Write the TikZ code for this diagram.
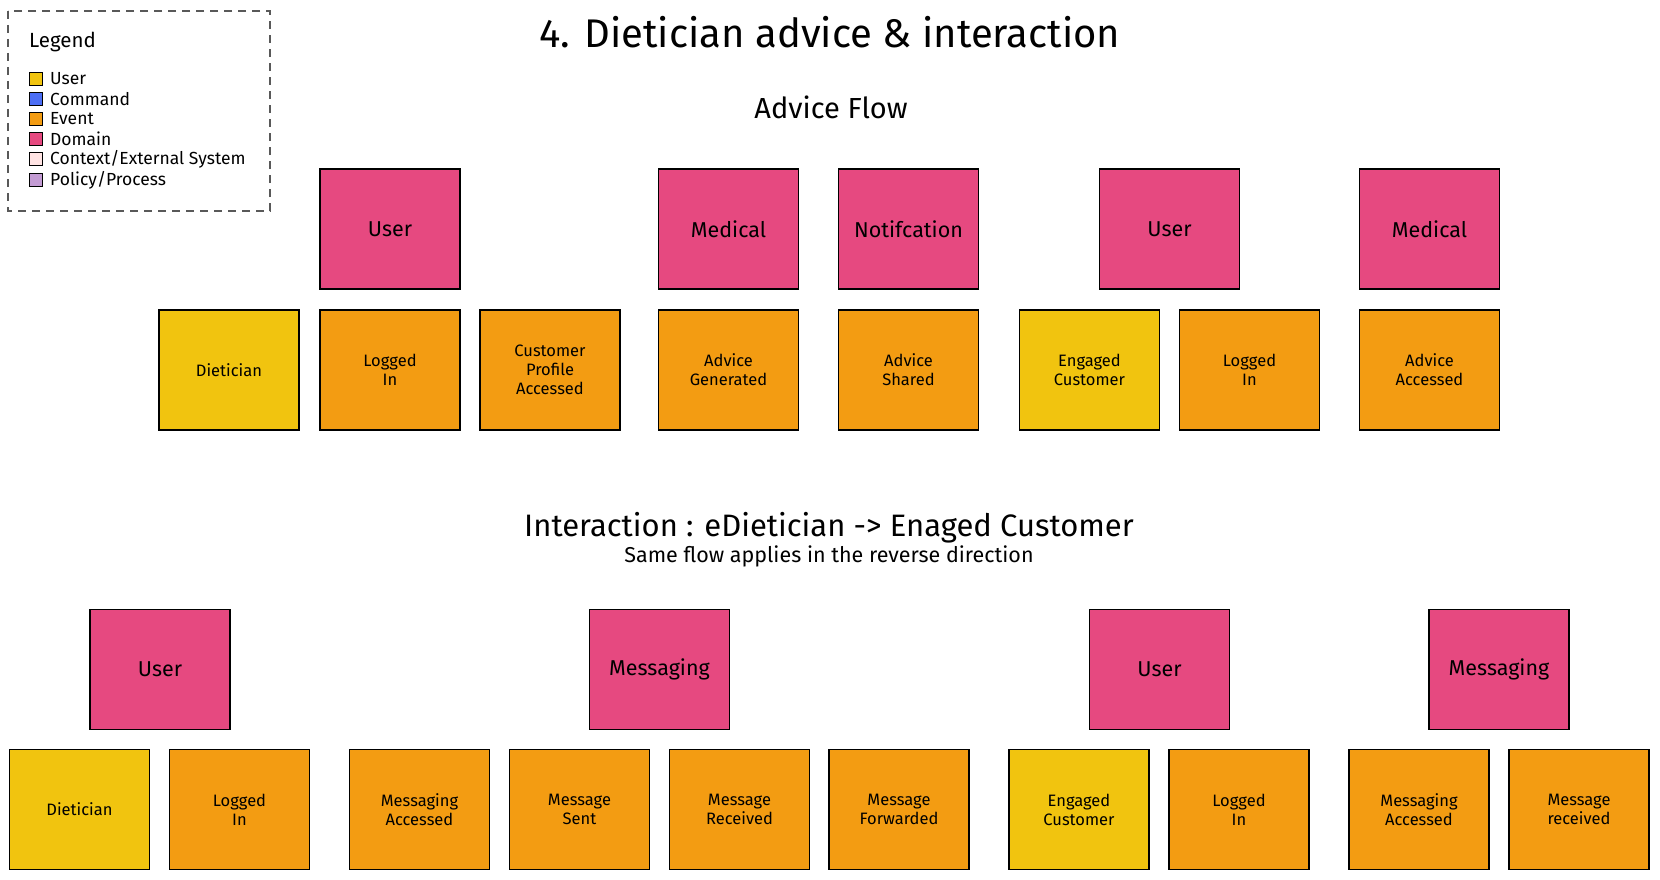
\documentclass[tikz,border=0pt]{standalone}
\usepackage{fontspec}
\setmainfont{Fira Sans}
\usetikzlibrary{positioning}
\definecolor{userYellow}{HTML}{F1C40F}
\definecolor{eventOrange}{HTML}{F39C12}
\definecolor{domainPink}{HTML}{E64980}
\definecolor{cmdBlue}{HTML}{4C6EF5}
\definecolor{ctxPink}{HTML}{FFE3E3}
\definecolor{policyLilac}{HTML}{C39BD3}
\tikzset{
  sticky/.style={draw=black, line width=1.2pt, minimum width=140pt, minimum height=120pt,
    align=center, inner sep=2pt, font=\fontsize{16.5}{19}\selectfont},
  domainbox/.style={sticky, fill=domainPink, font=\fontsize{21.5}{24}\selectfont},
  eventbox/.style={sticky, fill=eventOrange},
  actorbox/.style={sticky, fill=userYellow},
  swatch/.style={draw=black, line width=0.9pt, minimum size=13pt, inner sep=0pt},
  keytext/.style={anchor=west, inner sep=0pt, font=\fontsize{17.5}{19}\selectfont},
}

\begin{document}
\begin{tikzpicture}[x=1pt,y=-1pt]
\useasboundingbox (0,0) rectangle (1660,880);

\draw[gray!70!black, line width=1.2pt, dash pattern=on 8pt off 6pt] (8,11) rectangle (270,211);
\node[anchor=west, inner sep=0pt, font=\fontsize{20.5}{23}\selectfont] (legend) at (29,42) {Legend};
\node[swatch, fill=userYellow] (keyUser) at (36,79) {};
\node[swatch, fill=cmdBlue] (keyCommand) at (36,99) {};
\node[swatch, fill=eventOrange] (keyEvent) at (36,119) {};
\node[swatch, fill=domainPink] (keyDomain) at (36,139) {};
\node[swatch, fill=ctxPink] (keyContext) at (36,159) {};
\node[swatch, fill=policyLilac] (keyPolicy) at (36,180) {};
\node[keytext, right=7pt of keyUser] (keyUserText) {User};
\node[keytext, right=7pt of keyCommand] (keyCommandText) {Command};
\node[keytext, right=7pt of keyEvent] (keyEventText) {Event};
\node[keytext, right=7pt of keyDomain] (keyDomainText) {Domain};
\node[keytext, right=7pt of keyContext] (keyContextText) {Context/External System};
\node[keytext, right=7pt of keyPolicy] (keyPolicyText) {Policy/Process};

\node[font=\fontsize{40}{46}\selectfont] (title) at (830,32) {4. Dietician advice \& interaction};
\node[font=\fontsize{29}{34}\selectfont] (adviceFlow) at (831,107) {Advice Flow};

\node[domainbox] (aUser) at (390,229) {User};
\node[domainbox] (aMedical) at (728.5,229) {Medical};
\node[domainbox] (aNotify) at (908.5,229) {Notifcation};
\node[domainbox] (aUser2) at (1169.5,229) {User};
\node[domainbox] (aMedical2) at (1429.5,229) {Medical};

\node[actorbox] (aDietician) at (229,370) {Dietician};
\node[eventbox] (aLoggedIn) at (390,370) {Logged\\In};
\node[eventbox] (aProfile) at (550,370) {Customer\\Profile\\Accessed};
\node[eventbox] (aGenerated) at (728.5,370) {Advice\\Generated};
\node[eventbox] (aShared) at (908.5,370) {Advice\\Shared};
\node[actorbox] (aCustomer) at (1089.5,370) {Engaged\\Customer};
\node[eventbox] (aLoggedIn2) at (1249.5,370) {Logged\\In};
\node[eventbox] (aAccessed) at (1429.5,370) {Advice\\Accessed};

\node[font=\fontsize{31}{36}\selectfont] (interaction) at (829,528) {Interaction : eDietician -> Enaged Customer};
\node[font=\fontsize{21.5}{25}\selectfont] (reverseNote) at (829,556) {Same flow applies in the reverse direction};

\node[domainbox] (iUser) at (160,669.5) {User};
\node[domainbox] (iMessaging) at (659.5,669.5) {Messaging};
\node[domainbox] (iUser2) at (1159.5,669.5) {User};
\node[domainbox] (iMessaging2) at (1499,669.5) {Messaging};

\node[actorbox] (iDietician) at (79.5,809.5) {Dietician};
\node[eventbox] (iLoggedIn) at (239.5,809.5) {Logged\\In};
\node[eventbox] (iMsgAccessed) at (419.5,809.5) {Messaging\\Accessed};
\node[eventbox] (iSent) at (579.5,809.5) {Message\\Sent};
\node[eventbox] (iReceived) at (739.5,809.5) {Message\\Received};
\node[eventbox] (iForwarded) at (899,809.5) {Message\\Forwarded};
\node[actorbox] (iCustomer) at (1079,809.5) {Engaged\\Customer};
\node[eventbox] (iLoggedIn2) at (1239,809.5) {Logged\\In};
\node[eventbox] (iMsgAccessed2) at (1419,809.5) {Messaging\\Accessed};
\node[eventbox] (iReceived2) at (1579,809.5) {Message\\received};
\end{tikzpicture}
\end{document}
